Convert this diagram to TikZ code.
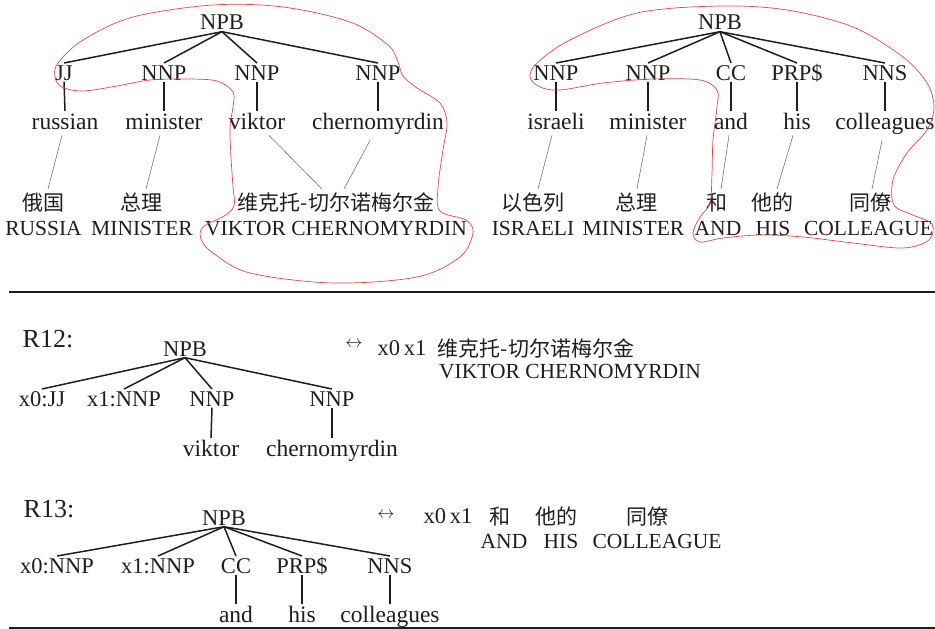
\documentclass[tikz,border=0pt]{standalone}
\usepackage{fontspec}
\setmainfont{Liberation Serif}
\newfontfamily\cjkf{Noto Sans CJK SC}
\definecolor{redc}{RGB}{232,70,70}
\definecolor{inkc}{RGB}{30,30,30}
\tikzset{
  tagn/.style={font=\fontsize{22.5}{27}\selectfont, anchor=base, inner sep=1.5pt, text height=15.3pt, text depth=0pt, text=inkc},
  wordn/.style={font=\fontsize{23.5}{28}\selectfont, anchor=base, inner sep=1.5pt, text height=16.5pt, text depth=4.7pt, text=inkc},
  zhn/.style={font=\cjkf\fontsize{21}{25}\selectfont, anchor=base, inner sep=3pt, text height=17.8pt, text depth=2.1pt, text=inkc},
  capn/.style={font=\fontsize{21.5}{26}\selectfont, anchor=base, inner sep=1pt, text=inkc},
  rulen/.style={font=\fontsize{26}{30}\selectfont, anchor=base, inner sep=1pt, text=inkc},
  arrn/.style={font=\fontsize{18}{20}\selectfont, anchor=base, inner sep=0pt, text=inkc},
  treeline/.style={line width=1.5pt, draw=inkc},
  alignline/.style={line width=0.6pt, draw=black!55},
  loopline/.style={draw=redc, line width=0.7pt},
  hrule/.style={line width=2pt, draw=inkc}
}
\begin{document}
\begin{tikzpicture}[x=1pt,y=-1pt]
\useasboundingbox (0,0) rectangle (935,629);

% ---------- top left tree ----------
\node[tagn] (lnpb) at (222,30) {NPB};
\node[tagn] (ljj) at (64,80) {JJ};
\node[tagn] (lnnpa) at (164,80) {NNP};
\node[tagn] (lnnpb) at (257,80) {NNP};
\node[tagn] (lnnpc) at (378,80) {NNP};
\node[wordn] (lwa) at (65,129) {russian};
\node[wordn] (lwb) at (164,129) {minister};
\node[wordn] (lwc) at (257,129) {viktor};
\node[wordn] (lwd) at (378,129) {chernomyrdin};
\node[zhn] (lza) at (43,210) {俄国};
\node[zhn] (lzb) at (141,210) {总理};
\node[zhn] (lzc) at (336,210) {维克托-切尔诺梅尔金};
\node[capn] (lca) at (43.5,235) {RUSSIA};
\node[capn] (lcb) at (142,235) {MINISTER};
\node[capn] (lcc) at (336,235) {VIKTOR CHERNOMYRDIN};

\foreach \c in {ljj,lnnpa,lnnpb,lnnpc} \draw[treeline] (lnpb.south) -- (\c.north);
\draw[treeline] (ljj.south) -- (lwa.north);
\draw[treeline] (lnnpa.south) -- (lwb.north);
\draw[treeline] (lnnpb.south) -- (lwc.north);
\draw[treeline] (lnnpc.south) -- (lwd.north);
\draw[alignline] ([xshift=-3pt]lwa.south) -- ([xshift=5pt]lza.north);
\draw[alignline] ([xshift=-4pt]lwb.south) -- ([xshift=5pt]lzb.north);
\draw[alignline] ([xshift=12pt]lwc.south) -- ([xshift=-14pt]lzc.north);
\draw[alignline] ([xshift=-8pt,yshift=-5pt]lwd.south) -- ([xshift=8pt]lzc.north);

\draw[loopline] plot[smooth cycle, tension=0.55] coordinates {
 (213,5) (133,17) (83,40) (58,63) (55,77) (62,87) (83,91) (117,86) (150,80)
 (187,79) (217,81) (233,92) (233,107) (230,127) (231,157) (233,187) (234,206)
 (224,216) (203,227) (201,239) (213,253) (250,273) (333,283) (417,277)
 (460,257) (473,233) (466,220) (440,211) (438,187) (443,150) (447,123)
 (440,103) (417,88) (403,76) (398,62) (388,45) (350,22) (283,7)};

% ---------- top right tree ----------
\node[tagn] (rnpb) at (720,30) {NPB};
\node[tagn] (rta) at (556,80) {NNP};
\node[tagn] (rtb) at (648,80) {NNP};
\node[tagn] (rtc) at (731,80) {CC};
\node[tagn] (rtd) at (797,80) {PRP\$};
\node[tagn] (rte) at (885,80) {NNS};
\node[wordn] (rwa) at (556,129) {israeli};
\node[wordn] (rwb) at (648,129) {minister};
\node[wordn] (rwc) at (731,129) {and};
\node[wordn] (rwd) at (797,129) {his};
\node[wordn] (rwe) at (885,129) {colleagues};
\node[zhn] (rza) at (533,210) {以色列};
\node[zhn] (rzb) at (636,210) {总理};
\node[zhn] (rzc) at (717,210) {和};
\node[zhn] (rzd) at (772,210) {他的};
\node[zhn] (rze) at (870,210) {同僚};
\node[capn] (rca) at (533,235) {ISRAELI};
\node[capn] (rcb) at (633.5,235) {MINISTER};
\node[capn] (rcc) at (718,235) {AND};
\node[capn] (rcd) at (773,235) {HIS};
\node[capn] (rce) at (868.5,235) {COLLEAGUE};

\foreach \c in {rta,rtb,rtc,rtd,rte} \draw[treeline] (rnpb.south) -- (\c.north);
\draw[treeline] (rta.south) -- (rwa.north);
\draw[treeline] (rtb.south) -- (rwb.north);
\draw[treeline] (rtc.south) -- (rwc.north);
\draw[treeline] (rtd.south) -- (rwd.north);
\draw[treeline] (rte.south) -- (rwe.north);
\draw[alignline] ([xshift=-4pt]rwa.south) -- ([xshift=5pt]rza.north);
\draw[alignline] ([xshift=-1pt]rwb.south) -- ([xshift=1pt]rzb.north);
\draw[alignline] ([xshift=-2pt]rwc.south) -- ([xshift=4pt]rzc.north);
\draw[alignline] ([xshift=-4pt]rwd.south) -- ([xshift=5pt]rzd.north);
\draw[alignline] ([xshift=-3pt,yshift=-5pt]rwe.south) -- ([xshift=2pt]rze.north);

\draw[loopline] plot[smooth cycle, tension=0.55] coordinates {
 (720,6) (637,13) (570,40) (537,63) (530,77) (540,87) (560,90) (603,83)
 (653,79) (700,80) (717,90) (717,107) (713,140) (712,173) (710,203) (700,217)
 (693,233) (700,242) (723,238) (760,235) (803,237) (853,243) (903,248)
 (929,240) (932,224) (913,215) (894,205) (893,180) (907,153) (927,130)
 (934,107) (927,83) (903,57) (853,27) (787,10)};

% ---------- rule ----------
\draw[hrule] (9,292) -- (935,292);

% ---------- R12 ----------
\node[rulen] (rtw) at (48,347) {R12:};
\node[tagn] (anpb) at (185,356) {NPB};
\node[tagn] (aa) at (42,406) {x0:JJ};
\node[tagn] (ab) at (124,406) {x1:NNP};
\node[tagn] (ac) at (212,406) {NNP};
\node[tagn] (ad) at (332,406) {NNP};
\node[wordn] (awc) at (211,456) {viktor};
\node[wordn] (awd) at (332,456) {chernomyrdin};
\foreach \c in {aa,ab,ac,ad} \draw[treeline] (anpb.south) -- (\c.north);
\draw[treeline] (ac.south) -- (awc.north);
\draw[treeline] (ad.south) -- (awd.north);
\node[arrn] (aarr) at (354,347) {$\leftrightarrow$};
\node[tagn] (ax) at (402,355) {x0\,x1};
\node[zhn] (az) at (536,356) {维克托-切尔诺梅尔金};
\node[capn] (acap) at (570,378) {VIKTOR CHERNOMYRDIN};

% ---------- R13 ----------
\node[rulen] (rth) at (49,517) {R13:};
\node[tagn] (bnpb) at (224,525) {NPB};
\node[tagn] (ba) at (57,573) {x0:NNP};
\node[tagn] (bb) at (158,573) {x1:NNP};
\node[tagn] (bc) at (236,573) {CC};
\node[tagn] (bd) at (302,573) {PRP\$};
\node[tagn] (be) at (390,573) {NNS};
\node[wordn] (bwc) at (236,622) {and};
\node[wordn] (bwd) at (302,622) {his};
\node[wordn] (bwe) at (390,622) {colleagues};
\foreach \c in {ba,bb,bc,bd,be} \draw[treeline] (bnpb.south) -- (\c.north);
\draw[treeline] (bc.south) -- (bwc.north);
\draw[treeline] (bd.south) -- (bwd.north);
\draw[treeline] (be.south) -- (bwe.north);
\node[arrn] (barr) at (386,518) {$\leftrightarrow$};
\node[tagn] (bx) at (448,523) {x0\,x1};
\node[zhn] (bza) at (500,524) {和};
\node[zhn] (bzb) at (556,524) {他的};
\node[zhn] (bzc) at (647,524) {同僚};
\node[capn] (bca) at (504,548) {AND};
\node[capn] (bcb) at (561,548) {HIS};
\node[capn] (bcc) at (657,548) {COLLEAGUE};

\draw[hrule] (9,628) -- (935,628);
\end{tikzpicture}
\end{document}
